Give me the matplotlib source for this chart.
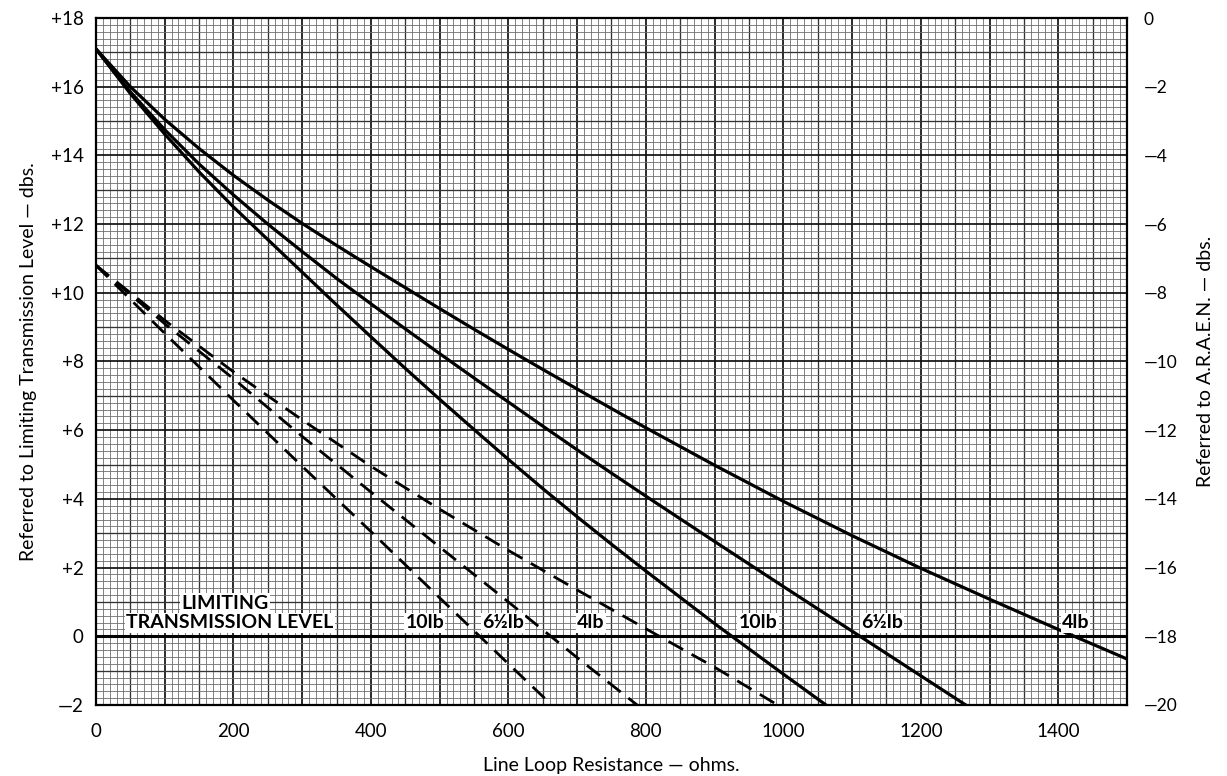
import numpy as np
import matplotlib.pyplot as plt

plt.rcParams['font.family'] = ['Lato', 'DejaVu Sans']

# Line loop resistance (ohms) and level (dbs)
r_solid = [0, 50, 100, 150, 200, 250, 300, 350, 400, 450, 500, 550, 600,
           650, 700, 750, 800, 900, 1000, 1100, 1200, 1300, 1400, 1500]
lb4_solid = [17.1, 16.0, 15.05, 14.2, 13.42, 12.7, 12.02, 11.38, 10.76, 10.15,
             9.54, 8.94, 8.35, 7.77, 7.2, 6.63, 6.07, 4.98, 3.93, 2.93, 1.98,
             1.08, 0.2, -0.66]
lb65_solid = [17.1, 15.85, 14.75, 13.75, 12.85, 12.0, 11.2, 10.42, 9.68, 8.95,
              8.23, 7.52, 6.82, 6.12, 5.43, 4.75, 4.08, 2.76, 1.45, 0.15, -1.15,
              -2.45, -3.75, -5.05]
lb10_solid = [17.1, 15.8, 14.62, 13.52, 12.5, 11.55, 10.6, 9.65, 8.72, 7.8,
              6.9, 6.02, 5.15, 4.3, 3.48, 2.68, 1.9, 0.37, -1.1, -2.55, -4.0,
              -5.4, -6.8, -8.2]

r_dash = [0, 100, 200, 300, 400, 500, 600, 700, 800, 900, 1000]
lb4_dash = [10.8, 9.2, 7.7, 6.3, 4.95, 3.7, 2.5, 1.35, 0.22, -0.9, -2.1]
lb65_dash = [10.8, 9.1, 7.5, 5.82, 4.2, 2.6, 1.0, -0.62, -2.2, -3.75, -5.3]
lb10_dash = [10.8, 8.82, 6.87, 4.95, 3.05, 1.12, -0.8, -2.7, -4.6, -6.5, -8.4]

left_ticks = list(range(-2, 19, 2))
left_labels = ['—2', '0', '+2', '+4', '+6', '+8', '+10', '+12', '+14', '+16', '+18']
right_ticks = list(range(-20, 1, 2))
right_labels = ['—20', '—18', '—16', '—14', '—12', '—10', '—8', '—6', '—4', '—2', '0']
x_ticks = list(range(0, 1401, 200))

fig = plt.figure(figsize=(12.27, 7.76), dpi=100)
ax = fig.add_axes([0.0782, 0.0915, 0.8403, 0.8853])
ax.set_xlim(0, 1500)
ax.set_ylim(-2, 18)

# graph paper
for x in np.arange(0, 1501, 10):
    if x % 100 == 0:
        ax.axvline(x, color='#111111', lw=1.25, zorder=1)
    elif x % 50 == 0:
        ax.axvline(x, color='#333333', lw=0.95, zorder=1)
    else:
        ax.axvline(x, color='#6e6e6e', lw=0.6, zorder=1)
for y in np.arange(-2, 18.01, 0.2):
    k = int(round(y * 5))
    if k % 10 == 0:
        ax.axhline(y, color='#111111', lw=1.25, zorder=1)
    elif k % 5 == 0:
        ax.axhline(y, color='#333333', lw=0.95, zorder=1)
    else:
        ax.axhline(y, color='#6e6e6e', lw=0.6, zorder=1)

ax.axhline(0, color='black', lw=2.2, zorder=3)

for vals in (lb4_solid, lb65_solid, lb10_solid):
    ax.plot(r_solid, vals, color='black', lw=2.3, zorder=4)
for vals in (lb4_dash, lb65_dash, lb10_dash):
    ax.plot(r_dash, vals, color='black', lw=2.0, dashes=(6, 3.5), zorder=4)

box = dict(facecolor='white', edgecolor='none', pad=0.8)
tkw = dict(fontsize=14, fontweight='bold', va='bottom', zorder=5, bbox=box)
ax.text(188, 0.72, 'LIMITING', ha='center', **tkw)
ax.text(44, 0.14, 'TRANSMISSION LEVEL', ha='left', **tkw)
ax.text(450, 0.14, '10lb', ha='left', **tkw)
ax.text(562, 0.14, '6½lb', ha='left', **tkw)
ax.text(700, 0.14, '4lb', ha='left', **tkw)
ax.text(935, 0.14, '10lb', ha='left', **tkw)
ax.text(1113, 0.14, '6½lb', ha='left', **tkw)
ax.text(1405, 0.14, '4lb', ha='left', **tkw)

ax.set_xticks(x_ticks)
ax.set_yticks(left_ticks)
ax.set_yticklabels(left_labels)
ax.tick_params(axis='x', length=0, labelsize=13.5, pad=13)
ax.tick_params(axis='y', length=0, labelsize=13.5, pad=9)
for s in ax.spines.values():
    s.set_linewidth(1.6)
    s.set_zorder(6)
ax.set_xlabel('Line Loop Resistance — ohms.', fontsize=14, labelpad=12)
ax.set_ylabel('Referred to Limiting Transmission Level — dbs.', fontsize=14, labelpad=10)

ax2 = ax.twinx()
ax2.set_ylim(-20, 0)
ax2.set_yticks(right_ticks)
ax2.set_yticklabels(right_labels)
ax2.tick_params(length=0, labelsize=12.5, pad=12)
ax2.set_ylabel('Referred to A.R.A.E.N. — dbs.', fontsize=14, labelpad=14)
for s in ax2.spines.values():
    s.set_visible(False)

fig.savefig('out.png', dpi=100)
